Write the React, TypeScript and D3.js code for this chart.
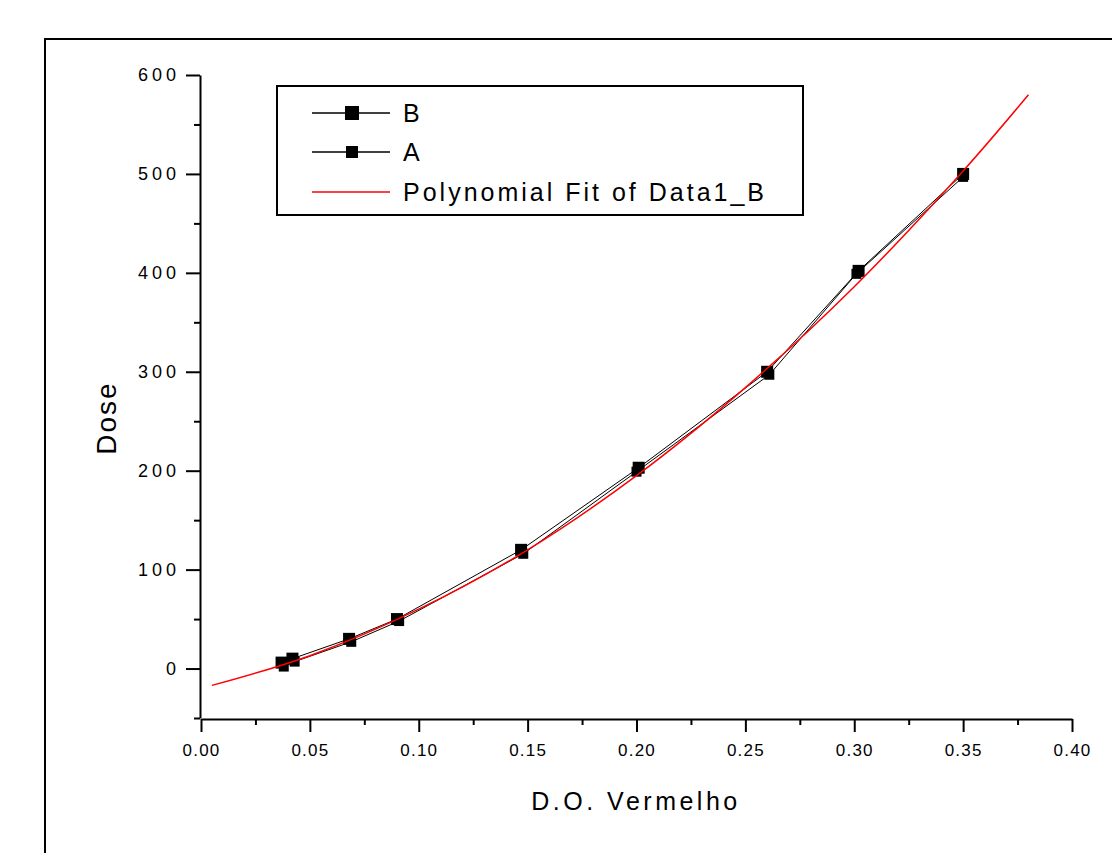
import { useEffect, useRef } from 'react';
import * as d3 from 'd3';

// values
const xTicks = [0, 0.05, 0.1, 0.15, 0.2, 0.25, 0.3, 0.35, 0.4];
const xMinor = [0.025, 0.075, 0.125, 0.175, 0.225, 0.275, 0.325, 0.375];
const yTicks = [0, 100, 200, 300, 400, 500, 600];
const yMinor = [-50, 50, 150, 250, 350, 450, 550];

const bX = [0.037, 0.042, 0.068, 0.090, 0.147, 0.201, 0.260, 0.302, 0.350];
const bDose = [6, 10, 30, 50, 120, 203, 300, 402, 500];
const aX = [0.038, 0.043, 0.069, 0.091, 0.148, 0.200, 0.261, 0.301, 0.350];
const aDose = [2, 7, 27, 48, 116, 199, 297, 399, 497];

// red fitted curve
const fitX = [0.005, 0.05, 0.1, 0.15, 0.2, 0.25, 0.3, 0.35, 0.38];
const fitDose = [-17, 13, 60, 120, 195, 284, 386, 503, 580];

export default function App() {
  const svgRef = useRef<SVGSVGElement>(null);

  useEffect(() => {
    const svg = d3.select(svgRef.current);
    svg.selectAll('*').remove();

    const font = '"Liberation Sans", Arial, sans-serif';
    const x = d3.scaleLinear().domain([0, 0.4]).range([201, 1072]);
    const y = d3.scaleLinear().domain([-50, 600]).range([718, 75]);

    // outer frame
    svg.append('rect')
      .attr('x', 45).attr('y', 39)
      .attr('width', 1100).attr('height', 900)
      .attr('fill', 'none').attr('stroke', '#000').attr('stroke-width', 2);

    // axes
    const xAxis = svg.append('g')
      .attr('transform', 'translate(0,719)')
      .call(d3.axisBottom(x).tickValues(xTicks).tickSize(13).tickSizeOuter(0).tickPadding(12).tickFormat(d3.format('.2f')));
    svg.append('g')
      .attr('transform', 'translate(0,719)')
      .call(d3.axisBottom(x).tickValues(xMinor).tickSize(6).tickSizeOuter(0).tickFormat(() => ''))
      .select('.domain').remove();
    xAxis.selectAll('text')
      .attr('font-size', 17).attr('font-family', font).attr('fill', '#000')
      .attr('letter-spacing', 1.2);

    const yAxis = svg.append('g')
      .attr('transform', 'translate(200,0)')
      .call(d3.axisLeft(y).tickValues(yTicks).tickSize(14).tickSizeOuter(0).tickPadding(6));
    svg.append('g')
      .attr('transform', 'translate(200,0)')
      .call(d3.axisLeft(y).tickValues(yMinor).tickSize(6).tickSizeOuter(0).tickFormat(() => ''))
      .select('.domain').remove();
    yAxis.selectAll('text')
      .attr('font-size', 18).attr('font-family', font).attr('fill', '#000')
      .attr('letter-spacing', 4);

    svg.selectAll('.domain, .tick line')
      .attr('stroke', '#000').attr('stroke-width', 2);

    // axis titles
    svg.append('text')
      .attr('x', 636).attr('y', 810)
      .attr('text-anchor', 'middle')
      .attr('font-family', font).attr('font-size', 25).attr('letter-spacing', 3.5)
      .text('D.O. Vermelho');
    svg.append('text')
      .attr('transform', 'translate(116,418) rotate(-90)')
      .attr('text-anchor', 'middle')
      .attr('font-family', font).attr('font-size', 28).attr('letter-spacing', 2)
      .text('Dose');

    // data
    const line = d3.line<number>();
    const fitLine = d3.line<number>().curve(d3.curveCatmullRom);

    svg.append('path')
      .attr('d', line(aX.map((v, i) => [x(v), y(aDose[i])] as any)))
      .attr('fill', 'none').attr('stroke', '#000').attr('stroke-width', 1);
    svg.append('path')
      .attr('d', line(bX.map((v, i) => [x(v), y(bDose[i])] as any)))
      .attr('fill', 'none').attr('stroke', '#000').attr('stroke-width', 1);

    svg.append('g').selectAll('rect')
      .data(aX)
      .join('rect')
      .attr('x', (d) => x(d) - 5)
      .attr('y', (d, i) => y(aDose[i]) - 5)
      .attr('width', 10).attr('height', 10)
      .attr('fill', '#000');
    svg.append('g').selectAll('rect')
      .data(bX)
      .join('rect')
      .attr('x', (d) => x(d) - 6)
      .attr('y', (d, i) => y(bDose[i]) - 6)
      .attr('width', 12).attr('height', 12)
      .attr('fill', '#000');

    svg.append('path')
      .attr('d', fitLine(fitX.map((v, i) => [x(v), y(fitDose[i])] as any)))
      .attr('fill', 'none').attr('stroke', '#ff0000').attr('stroke-width', 1.5);

    // legend
    const lg = svg.append('g');
    lg.append('rect')
      .attr('x', 277).attr('y', 86).attr('width', 526).attr('height', 129)
      .attr('fill', '#fff').attr('stroke', '#000').attr('stroke-width', 2);
    const items = [
      { label: 'B', color: '#000', marker: 14, cy: 113 },
      { label: 'A', color: '#000', marker: 12, cy: 152 },
      { label: 'Polynomial Fit of Data1_B', color: '#ff0000', marker: 0, cy: 192 },
    ];
    items.forEach((it) => {
      lg.append('line')
        .attr('x1', 312).attr('x2', 390).attr('y1', it.cy).attr('y2', it.cy)
        .attr('stroke', it.color).attr('stroke-width', 1.5);
      if (it.marker) {
        lg.append('rect')
          .attr('x', 352 - it.marker / 2).attr('y', it.cy - it.marker / 2)
          .attr('width', it.marker).attr('height', it.marker).attr('fill', '#000');
      }
      lg.append('text')
        .attr('x', 403).attr('y', it.cy + 9)
        .attr('font-family', font).attr('font-size', 25).attr('letter-spacing', 3)
        .text(it.label);
    });
  }, []);

  return (
    <svg ref={svgRef} width={1112} height={853}
      style={{ position: 'absolute', left: 0, top: 0, background: '#fff' }} />
  );
}
